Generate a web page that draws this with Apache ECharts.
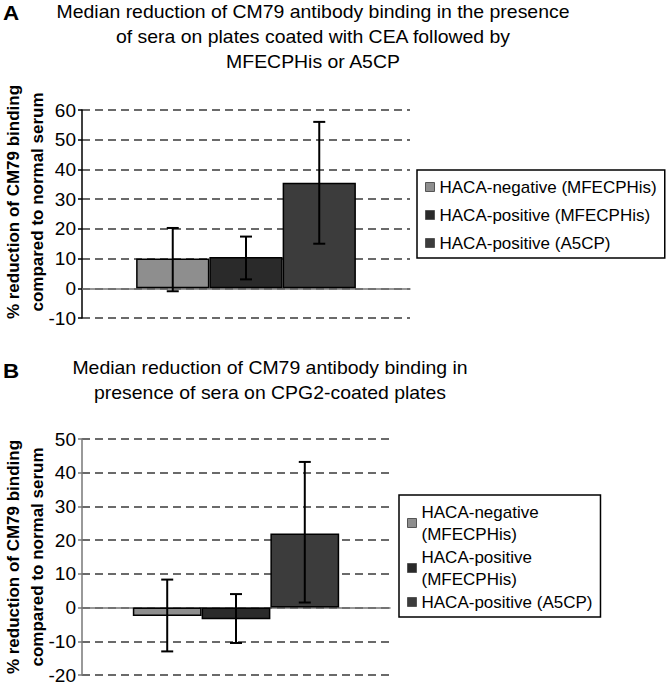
<!DOCTYPE html>
<html>
<head>
<meta charset="utf-8">
<script src="https://cdn.jsdelivr.net/npm/echarts@6/dist/echarts.min.js"></script>
<style>html,body{margin:0;padding:0;background:#fff}#c{width:670px;height:685px}</style>
</head>
<body>
<div id="c"></div>
<script>
// ---- data ----
const categories = ['all'];
const seriesNamesA = ['HACA-negative (MFECPHis)', 'HACA-positive (MFECPHis)', 'HACA-positive (A5CP)'];
const seriesNamesB = ['HACA-negative\n(MFECPHis)', 'HACA-positive\n(MFECPHis)', 'HACA-positive (A5CP)'];
const medianA = [10, 10.5, 35.5];
const errLowA = [-1, 3, 15];
const errHighA = [20.3, 17.4, 56];
const medianB = [-2.5, -3.5, 22];
const errLowB = [-13, -10.5, 1.5];
const errHighB = [8.3, 4, 43.2];
const yTicksA = [-10, 0, 10, 20, 30, 40, 50, 60];
const yTicksB = [-20, -10, 0, 10, 20, 30, 40, 50];
const titleA = 'Median reduction of CM79 antibody binding in the presence\nof sera on plates coated with CEA followed by\nMFECPHis or A5CP';
const titleB = 'Median reduction of CM79 antibody binding in\npresence of sera on CPG2-coated plates';
const yNameLines = ['% reduction of CM79 binding', 'compared to normal serum'];

const colors = ['#8e8e8e', '#2a2a2a', '#3c3c3c'];
const CAT_GAP = 0.33;
const FONT = 'Liberation Sans, Arial, Helvetica, sans-serif';

function errRender(params, api) {
  const cat = api.value(0);
  const lo = api.coord([cat, api.value(1)]);
  const hi = api.coord([cat, api.value(2)]);
  const band = api.size([1, 0])[0];
  const groupW = band * (1 - CAT_GAP);
  const barW = groupW / 3;
  const cx = lo[0] - groupW / 2 + (api.value(3) + 0.5) * barW;
  const cap = 6;
  const st = { stroke: '#000', lineWidth: 2 };
  return {
    type: 'group',
    children: [
      { type: 'line', shape: { x1: cx, y1: lo[1], x2: cx, y2: hi[1] }, style: st },
      { type: 'line', shape: { x1: cx - cap, y1: lo[1], x2: cx + cap, y2: lo[1] }, style: st },
      { type: 'line', shape: { x1: cx - cap, y1: hi[1], x2: cx + cap, y2: hi[1] }, style: st }
    ]
  };
}

function yAxisCfg(gi, ticks, axisColor) {
  return {
    type: 'value', gridIndex: gi,
    min: ticks[0], max: ticks[ticks.length - 1], interval: 10,
    axisLine: { show: true, lineStyle: { color: axisColor, width: 1.5 } },
    axisTick: { show: true, length: 4, lineStyle: { color: axisColor, width: 1.5 } },
    axisLabel: { color: '#000', fontSize: 19, fontFamily: FONT, margin: 6 },
    splitLine: { show: true, lineStyle: { color: '#3a3a3a', width: 1.6, type: [8, 5] } }
  };
}
function xAxisCfg(gi) {
  return {
    type: 'category', gridIndex: gi, data: categories,
    axisLine: { show: true, onZero: true, lineStyle: { color: '#777', width: 1.5 } },
    axisTick: { show: false }, axisLabel: { show: false }, splitLine: { show: false }
  };
}

const series = [];
[[seriesNamesA, medianA, 0], [seriesNamesB, medianB, 1]].forEach(([names, vals, gi]) => {
  names.forEach((n, i) => {
    series.push({
      name: n, type: 'bar', xAxisIndex: gi, yAxisIndex: gi,
      barGap: '0%', barCategoryGap: (CAT_GAP * 100) + '%',
      itemStyle: { color: colors[i], borderColor: '#000', borderWidth: 1.5 },
      data: [vals[i]], z: 2
    });
  });
});
[[errLowA, errHighA, 0], [errLowB, errHighB, 1]].forEach(([lo, hi, gi]) => {
  series.push({
    type: 'custom', xAxisIndex: gi, yAxisIndex: gi, z: 5,
    renderItem: errRender,
    encode: { x: 0, y: [1, 2] },
    data: lo.map((l, i) => [0, l, hi[i], i])
  });
});

function legendCfg(names, left, top, pad, gap, lh) {
  return {
    data: names,
    orient: 'vertical', left: left, top: top,
    itemWidth: 9, itemHeight: 9, itemGap: gap, selectedMode: false,
    icon: 'rect',
    borderColor: '#000', borderWidth: 1.5, padding: pad,
    itemStyle: { borderColor: '#555', borderWidth: 1 },
    textStyle: { fontSize: 17, fontFamily: FONT, color: '#000', lineHeight: lh }
  };
}

function yName(cx, cy) {
  return {
    type: 'text', x: cx, y: cy, rotation: Math.PI / 2,
    style: {
      text: yNameLines.join('\n'), font: 'bold 17px ' + FONT, fill: '#000',
      align: 'center', verticalAlign: 'middle', lineHeight: 24
    }
  };
}

const chart = echarts.init(document.getElementById('c'), null, { renderer: 'svg' });
chart.setOption({
  animation: false,
  backgroundColor: '#fff',
  grid: [
    { left: 82, top: 110, width: 328, height: 208, containLabel: false },
    { left: 82, top: 439, width: 308, height: 236, containLabel: false }
  ],
  xAxis: [xAxisCfg(0), xAxisCfg(1)],
  yAxis: [yAxisCfg(0, yTicksA, '#000'), yAxisCfg(1, yTicksB, '#777')],
  legend: [
    legendCfg(seriesNamesA, 417, 170, [6, 8, 4, 8], 6, 22),
    legendCfg(seriesNamesB, 399, 495, [6, 8, 4, 8], 1, 22)
  ],
  series: series,
  graphic: [
    { type: 'text', x: 3, y: 13, scaleX: 1.12, style: { text: 'A', font: 'bold 20px ' + FONT, fill: '#000', verticalAlign: 'middle' } },
    { type: 'text', x: 3, y: 371, scaleX: 1.12, style: { text: 'B', font: 'bold 20px ' + FONT, fill: '#000', verticalAlign: 'middle' } },
    { type: 'text', x: 313, y: -1, scaleX: 1.08, style: { text: titleA, font: '18px ' + FONT, fill: '#000', align: 'center', verticalAlign: 'top', lineHeight: 25 } },
    { type: 'text', x: 270, y: 355, scaleX: 1.08, style: { text: titleB, font: '18px ' + FONT, fill: '#000', align: 'center', verticalAlign: 'top', lineHeight: 25 } },
    yName(25, 202),
    yName(25, 557)
  ]
});
</script>
</body>
</html>
